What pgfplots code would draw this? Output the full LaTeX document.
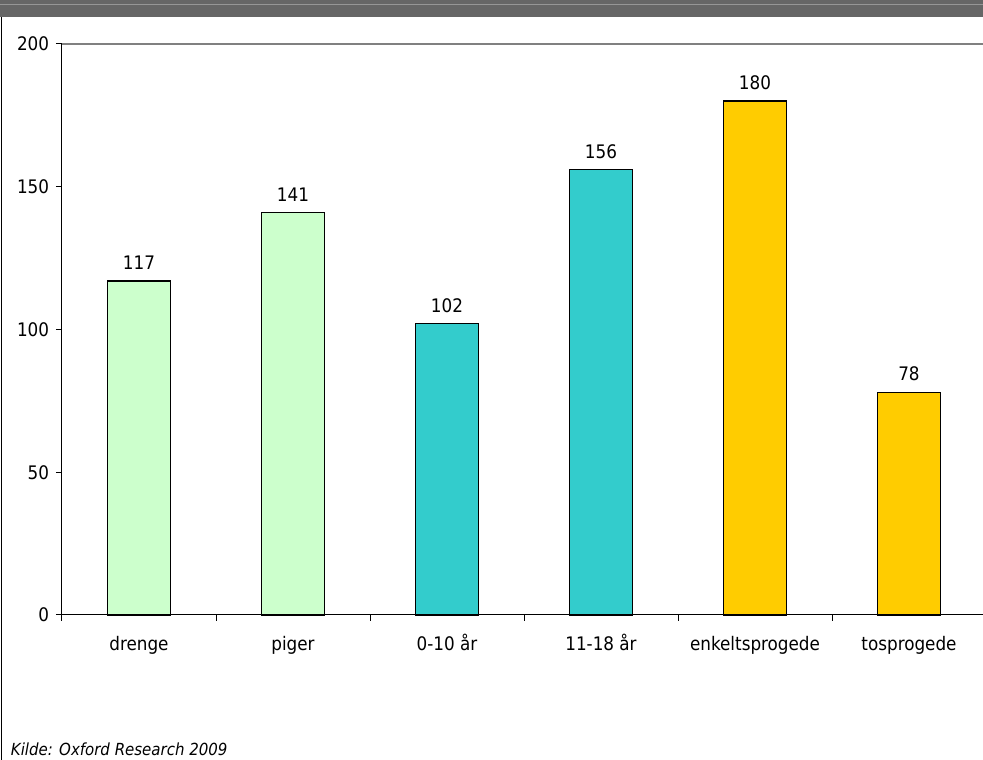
\documentclass[border=0pt]{standalone}
\usepackage{pgfplots}
\pgfplotsset{compat=1.18}
\usepackage{fontspec}
\setmainfont{DejaVu Sans Condensed}

\definecolor{band}{RGB}{102,102,102}
\definecolor{bandline}{RGB}{150,150,150}
\definecolor{lgreen}{RGB}{204,255,204}
\definecolor{teal}{RGB}{51,204,204}
\definecolor{gold}{RGB}{255,204,0}
\definecolor{frame}{RGB}{128,128,128}

\begin{document}
\begin{tikzpicture}
% whole picture 983 x 760 px, 1px = 0.75pt
\useasboundingbox (0,0) rectangle (737.25pt,570pt);
\clip (0,0) rectangle (737.25pt,570pt);
\fill[white] (0,0) rectangle (737.25pt,570pt);
\fill[band] (0,557.25pt) rectangle (737.25pt,570pt);
\draw[bandline, line width=0.75pt] (0,566.25pt) -- (737.25pt,566.25pt);
\draw[black, line width=0.9pt] (1.2pt,0) -- (1.2pt,557.25pt);
\draw[frame, line width=1.2pt] (46.5pt,537pt) -- (737.25pt,537pt);

\begin{axis}[
    at={(46.5pt,108.75pt)}, anchor=south west,
    scale only axis,
    width=693pt, height=428.25pt,
    xmin=-0.5, xmax=5.5,
    ymin=0, ymax=200,
    axis x line=bottom, axis y line=left,
    axis line style={black, line width=0.75pt, -},
    ybar, bar width=47.25pt, bar shift=0pt,
    xtick={0,...,5},
    xticklabels={drenge, piger, 0-10 år, 11-18 år, enkeltsprogede, tosprogede},
    minor xtick={-0.5,0.5,...,5.5},
    major x tick style={draw=none},
    minor tick length=4.5pt,
    ytick={0,50,...,200},
    major tick length=4.5pt,
    tick align=outside,
    tick style={black, line width=0.75pt},
    /pgf/number format/assume math mode=true,
    tick label style={font=\fontsize{14}{16}\selectfont},
    xticklabel style={anchor=north, inner sep=0pt, text height=10.2pt, yshift=-12pt},
    yticklabel style={anchor=east, inner sep=0pt, xshift=-5pt},
    nodes near coords,
    every node near coord/.append style={font=\fontsize{14}{16}\selectfont, black, anchor=south, inner sep=0pt, yshift=8pt},
    clip=false,
]
\addplot[fill=lgreen, draw=black, line width=1pt] coordinates {(0,117) (1,141)};
\addplot[fill=teal, draw=black, line width=1pt] coordinates {(2,102) (3,156)};
\addplot[fill=gold, draw=black, line width=1pt] coordinates {(4,180) (5,78)};
\end{axis}

\node[anchor=base west, inner sep=0pt, font=\fontsize{12.5}{14}\selectfont\itshape] at (8pt,3pt) {Kilde: Oxford Research 2009};
\end{tikzpicture}
\end{document}
